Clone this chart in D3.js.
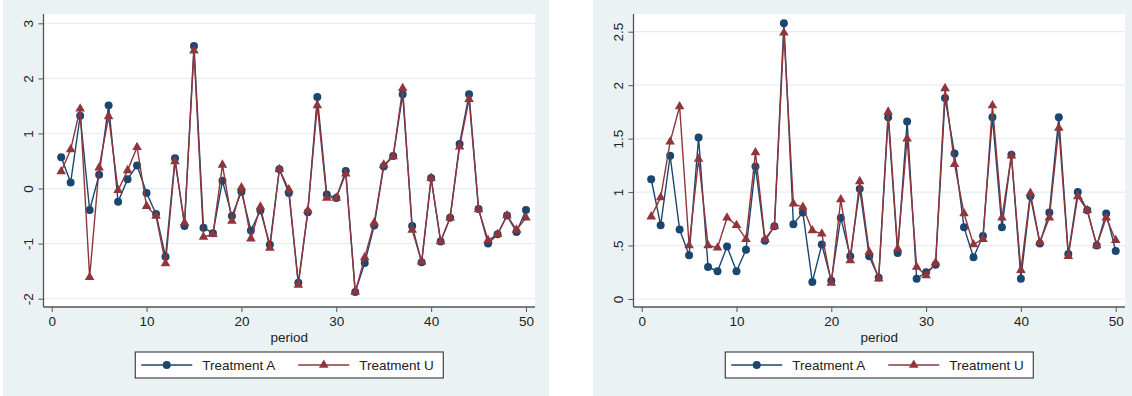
<!DOCTYPE html>
<html>
<head>
<meta charset="utf-8">
<script src="https://cdn.jsdelivr.net/npm/d3@7"></script>
<style>
  body { margin: 0; background: #fff; }
  svg { display: block; font-family: "Liberation Sans", Arial, sans-serif; }
</style>
</head>
<body>
<div id="chart"></div>
<script>
// periods on the x axis
const periods = [1,2,3,4,5,6,7,8,9,10,11,12,13,14,15,16,17,18,19,20,21,22,23,24,25,
  26,27,28,29,30,31,32,33,34,35,36,37,38,39,40,41,42,43,44,45,46,47,48,49,50];

// left panel
const leftA = [0.57,0.11,1.32,-0.39,0.25,1.51,-0.24,0.17,0.42,-0.08,-0.46,-1.24,0.55,-0.68,2.59,-0.71,-0.81,0.14,-0.50,-0.06,
  -0.76,-0.40,-1.02,0.35,-0.08,-1.71,-0.43,1.66,-0.11,-0.17,0.32,-1.88,-1.35,-0.67,0.40,0.59,1.71,-0.68,-1.34,0.19,
  -0.96,-0.53,0.81,1.71,-0.37,-1.00,-0.83,-0.49,-0.79,-0.39];
const leftU = [0.31,0.71,1.45,-1.61,0.38,1.31,-0.03,0.33,0.75,-0.32,-0.50,-1.36,0.49,-0.62,2.50,-0.88,-0.83,0.43,-0.59,0.02,
  -0.91,-0.33,-1.08,0.35,-0.02,-1.75,-0.40,1.51,-0.17,-0.17,0.27,-1.88,-1.25,-0.62,0.43,0.58,1.82,-0.75,-1.33,0.19,
  -0.96,-0.53,0.76,1.62,-0.38,-0.94,-0.83,-0.49,-0.75,-0.53];

// right panel
const rightA = [1.12,0.69,1.34,0.65,0.41,1.51,0.30,0.26,0.49,0.26,0.46,1.24,0.545,0.68,2.58,0.70,0.81,0.16,0.51,0.17,
  0.76,0.40,1.03,0.40,0.20,1.70,0.43,1.66,0.19,0.25,0.32,1.88,1.36,0.67,0.39,0.59,1.70,0.67,1.35,0.19,
  0.96,0.52,0.81,1.70,0.42,1.00,0.83,0.50,0.80,0.45];
const rightU = [0.77,0.95,1.47,1.80,0.50,1.31,0.50,0.48,0.76,0.69,0.56,1.37,0.56,0.68,2.49,0.89,0.86,0.64,0.61,0.15,
  0.93,0.36,1.10,0.44,0.19,1.75,0.47,1.50,0.30,0.22,0.34,1.97,1.26,0.80,0.51,0.56,1.81,0.76,1.34,0.27,
  0.99,0.53,0.76,1.60,0.40,0.96,0.83,0.50,0.76,0.55];

const xTicks = [0,10,20,30,40,50];
const leftYTicks = [-2,-1,0,1,2,3];
const leftYLabels = ["-2","-1","0","1","2","3"];
const rightYTicks = [0,0.5,1,1.5,2,2.5];
const rightYLabels = ["0",".5","1","1.5","2","2.5"];
const seriesNames = ["Treatment A","Treatment U"];

const width = 1132, height = 396;
const navy = "#1a476f", maroon = "#90353b", bgCol = "#eaf2f3", gridCol = "#e6eef0";

const svg = d3.select("#chart").append("svg")
  .attr("width", width).attr("height", height);

function drawPanel(p) {
  const g = svg.append("g");

  // outer graph region
  g.append("rect")
    .attr("x", p.left).attr("y", 0)
    .attr("width", p.right - p.left).attr("height", height)
    .attr("fill", bgCol);

  // plot region
  g.append("rect")
    .attr("x", p.plotL).attr("y", p.plotT)
    .attr("width", p.plotR - p.plotL).attr("height", p.plotB - p.plotT)
    .attr("fill", "#fff");

  const x = d3.scaleLinear().domain([0, 50]).range(p.xRange);
  const y = d3.scaleLinear().domain(p.yDomain).range(p.yRange);

  // grid
  g.selectAll(".grid")
    .data(p.yTicks)
    .join("line")
      .attr("x1", p.plotL).attr("x2", p.plotR)
      .attr("y1", d => y(d)).attr("y2", d => y(d))
      .attr("stroke", gridCol).attr("stroke-width", 1.2);

  // y axis
  const yAxis = g.append("g")
    .attr("transform", `translate(${p.plotL},0)`)
    .call(d3.axisLeft(y).tickValues(p.yTicks).tickSize(5).tickFormat((d, i) => p.yLabels[i]));
  yAxis.select(".domain").attr("d", `M0,${p.plotT}V${p.plotB}`).attr("stroke", "#555").attr("stroke-width", 1.3);
  yAxis.selectAll(".tick line").attr("stroke", "#555");
  yAxis.selectAll(".tick text")
    .attr("x", null).attr("dy", null)
    .attr("text-anchor", "middle")
    .attr("transform", "translate(-11,0) rotate(-90)")
    .style("font-size", "13.5px").attr("fill", "#222");

  // x axis
  const xAxis = g.append("g")
    .attr("transform", `translate(0,${p.plotB})`)
    .call(d3.axisBottom(x).tickValues(xTicks).tickSize(5));
  xAxis.select(".domain").attr("d", `M${p.plotL},0H${p.plotR}`).attr("stroke", "#555").attr("stroke-width", 1.3);
  xAxis.selectAll(".tick line").attr("stroke", "#555");
  xAxis.selectAll(".tick text")
    .attr("y", 9).attr("dy", "0.71em")
    .style("font-size", "13.5px").attr("fill", "#222");

  const cx = (p.plotL + p.plotR) / 2;
  g.append("text")
    .attr("x", cx).attr("y", 342)
    .attr("text-anchor", "middle")
    .style("font-size", "13.5px").attr("fill", "#222")
    .text("period");

  const line = d3.line().x((d, i) => x(periods[i])).y(d => y(d));
  const circle = d3.symbol().type(d3.symbolCircle).size(50);
  const tri = d3.symbol().type(d3.symbolTriangle).size(40);

  // Treatment A
  g.append("path").datum(p.a)
    .attr("d", line).attr("fill", "none")
    .attr("stroke", navy).attr("stroke-width", 1.4);
  g.selectAll(".ptA").data(p.a).join("path")
    .attr("transform", (d, i) => `translate(${x(periods[i])},${y(d)})`)
    .attr("d", circle).attr("fill", navy);

  // Treatment U
  g.append("path").datum(p.u)
    .attr("d", line).attr("fill", "none")
    .attr("stroke", maroon).attr("stroke-width", 1.4);
  g.selectAll(".ptU").data(p.u).join("path")
    .attr("transform", (d, i) => `translate(${x(periods[i])},${y(d)})`)
    .attr("d", tri).attr("fill", maroon);

  // legend
  const lw = 308, lh = 26;
  const lg = g.append("g").attr("transform", `translate(${cx - lw / 2},352)`);
  lg.append("rect")
    .attr("width", lw).attr("height", lh)
    .attr("fill", "#fff").attr("stroke", "#222").attr("stroke-width", 1);

  const items = [
    {name: seriesNames[0], col: navy, sym: circle, x0: 6},
    {name: seriesNames[1], col: maroon, sym: tri, x0: 163}
  ];
  items.forEach(it => {
    lg.append("line")
      .attr("x1", it.x0).attr("x2", it.x0 + 51)
      .attr("y1", lh / 2).attr("y2", lh / 2)
      .attr("stroke", it.col).attr("stroke-width", 1.4);
    lg.append("path")
      .attr("transform", `translate(${it.x0 + 25.5},${lh / 2})`)
      .attr("d", it.sym).attr("fill", it.col);
    lg.append("text")
      .attr("x", it.x0 + 61).attr("y", lh / 2)
      .attr("dy", "0.35em")
      .style("font-size", "13.5px").attr("fill", "#222")
      .text(it.name);
  });
}

drawPanel({
  left: 3, right: 549,
  plotL: 43.5, plotR: 535, plotT: 14, plotB: 307,
  xRange: [51.7, 526],
  yDomain: [-2, 3], yRange: [298.7, 23.3],
  yTicks: leftYTicks, yLabels: leftYLabels,
  a: leftA, u: leftU
});

drawPanel({
  left: 593, right: 1132,
  plotL: 633.5, plotR: 1125, plotT: 14, plotB: 307,
  xRange: [641.7, 1115.7],
  yDomain: [0, 2.5], yRange: [299, 31.7],
  yTicks: rightYTicks, yLabels: rightYLabels,
  a: rightA, u: rightU
});
</script>
</body>
</html>
